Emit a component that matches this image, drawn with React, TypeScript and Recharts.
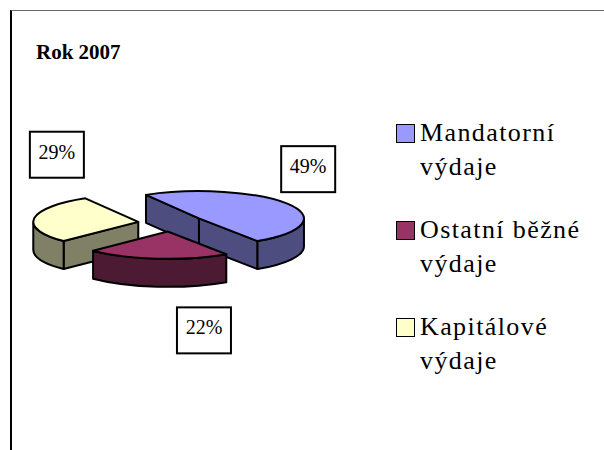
import React from 'react';
import { PieChart, Pie, Legend } from 'recharts';

const title = 'Rok 2007';
const categories = ['Mandatorní výdaje', 'Ostatní běžné výdaje', 'Kapitálové výdaje'];
const values = [49, 22, 29];
const topColors = ['#9999FF', '#993366', '#FFFFCC'];
const sideColors = ['#4D4D80', '#4D1A33', '#808066'];

const data = categories.map((name, i) => ({ name, value: values[i] }));

// 3D look
const CX = 171;
const CY = 223;
const RADIUS = 105;
const TILT = 0.26;
const DEPTH = 28;
const EXPLODE = 33;
const START = 120.3;
const DRAW_ORDER = [0, 2, 1];
const LABEL_NUDGE: [number, number][] = [[26, -12], [46, 29], [16, -58]];
const BOX_W = 54;
const BOX_H = 46;

const RAD = Math.PI / 180;

function fmt(n: number) {
  return n.toFixed(2);
}

function makeSliceLabel(target: number) {
  return (p: any) => {
    if (p.index !== target) return <g />;
    const { cx, cy, outerRadius, startAngle, endAngle, midAngle, percent, index } = p;
    const r = outerRadius;
    const ry = r * TILT;
    const m = -midAngle * RAD;
    const ox = cx + EXPLODE * Math.cos(m);
    const oy = cy + EXPLODE * TILT * Math.sin(m);
    let s1 = -startAngle;
    let s2 = -endAngle;
    if (s2 < s1) [s1, s2] = [s2, s1];
    const P = (t: number, dy = 0) => [ox + r * Math.cos(t * RAD), oy + ry * Math.sin(t * RAD) + dy];
    const pt = (q: number[]) => `${fmt(q[0])},${fmt(q[1])}`;
    const large = s2 - s1 > 180 ? 1 : 0;
    const topPath = `M${fmt(ox)},${fmt(oy)} L${pt(P(s1))} A${fmt(r)},${fmt(ry)} 0 ${large} 1 ${pt(P(s2))} Z`;

    const faces: string[] = [];
    // radial faces
    if (Math.cos(s1 * RAD) < 0) {
      faces.push(`M${fmt(ox)},${fmt(oy)} L${pt(P(s1))} L${pt(P(s1, DEPTH))} L${fmt(ox)},${fmt(oy + DEPTH)} Z`);
    }
    if (Math.cos(s2 * RAD) > 0) {
      faces.push(`M${fmt(ox)},${fmt(oy)} L${pt(P(s2))} L${pt(P(s2, DEPTH))} L${fmt(ox)},${fmt(oy + DEPTH)} Z`);
    }
    // curved outer faces (front half only)
    for (let n = -2; n <= 2; n++) {
      const a = Math.max(s1, 360 * n);
      const b = Math.min(s2, 360 * n + 180);
      if (b > a + 0.01) {
        faces.push(
          `M${pt(P(a))} A${fmt(r)},${fmt(ry)} 0 0 1 ${pt(P(b))} L${pt(P(b, DEPTH))} A${fmt(r)},${fmt(ry)} 0 0 0 ${pt(P(a, DEPTH))} Z`
        );
      }
    }

    const bx = cx + 1.25 * r * Math.cos(m) + LABEL_NUDGE[index][0];
    const by = cy + 0.75 * r * Math.sin(m) + LABEL_NUDGE[index][1];

    return (
      <g>
        {faces.map((d, i) => (
          <path key={i} d={d} fill={sideColors[index]} stroke="#000" strokeWidth={2} strokeLinejoin="round" />
        ))}
        <path d={topPath} fill={topColors[index]} stroke="#000" strokeWidth={2} strokeLinejoin="round" />
        <rect x={bx - BOX_W / 2} y={by - BOX_H / 2} width={BOX_W} height={BOX_H} fill="#fff" stroke="#000" strokeWidth={2} />
        <text
          x={bx}
          y={by + 4}
          textAnchor="middle"
          fontFamily='"Liberation Serif", "Times New Roman", serif'
          fontSize={20}
          fill="#000"
        >
          {`${Math.round(percent * 100)}%`}
        </text>
      </g>
    );
  };
}

const LegendContent = () => (
  <div
    style={{
      fontFamily: '"Liberation Serif", "Times New Roman", serif',
      fontSize: 26,
      letterSpacing: 1.4,
      color: '#000',
    }}
  >
    {categories.map((c, i) => (
      <div key={c} style={{ display: 'flex', alignItems: 'flex-start', marginBottom: i < categories.length - 1 ? 29 : 0 }}>
        <div
          style={{
            width: 17,
            height: 17,
            marginTop: 8,
            border: '1.5px solid #000',
            background: topColors[i],
            flexShrink: 0,
          }}
        />
        <div style={{ lineHeight: '34px', width: 180, marginLeft: 5 }}>{c}</div>
      </div>
    ))}
  </div>
);

export default function App() {
  return (
    <div style={{ position: 'absolute', left: 0, top: 0, width: 604, height: 450, overflow: 'hidden', background: '#fff' }}>
      <div
        style={{
          position: 'absolute',
          left: 10,
          top: 10,
          width: 594,
          height: 440,
          borderTop: '1px solid #6b6b6b',
          borderLeft: '2px solid #000',
          boxSizing: 'border-box',
        }}
      />
      <div
        style={{
          position: 'absolute',
          left: 36,
          top: 42.4,
          fontFamily: '"Liberation Serif", "Times New Roman", serif',
          fontWeight: 'bold',
          fontSize: 21,
          lineHeight: 1,
          color: '#000',
          whiteSpace: 'nowrap',
        }}
      >
        {title}
      </div>
      <div style={{ position: 'absolute', left: 0, top: 0 }}>
        <PieChart width={604} height={450} margin={{ top: 0, right: 0, bottom: 0, left: 0 }}>
          {DRAW_ORDER.map((idx) => (
            <Pie
              key={idx}
              data={data}
              dataKey="value"
              nameKey="name"
              cx={CX}
              cy={CY}
              outerRadius={RADIUS}
              startAngle={START}
              endAngle={START - 360}
              fill="transparent"
              stroke="none"
              label={makeSliceLabel(idx)}
              labelLine={false}
              legendType={idx === 0 ? 'square' : 'none'}
              isAnimationActive={false}
            />
          ))}
          <Legend
            layout="vertical"
            align="right"
            verticalAlign="top"
            content={<LegendContent />}
            wrapperStyle={{ left: 396, top: 115.9, width: 208 }}
          />
        </PieChart>
      </div>
    </div>
  );
}
